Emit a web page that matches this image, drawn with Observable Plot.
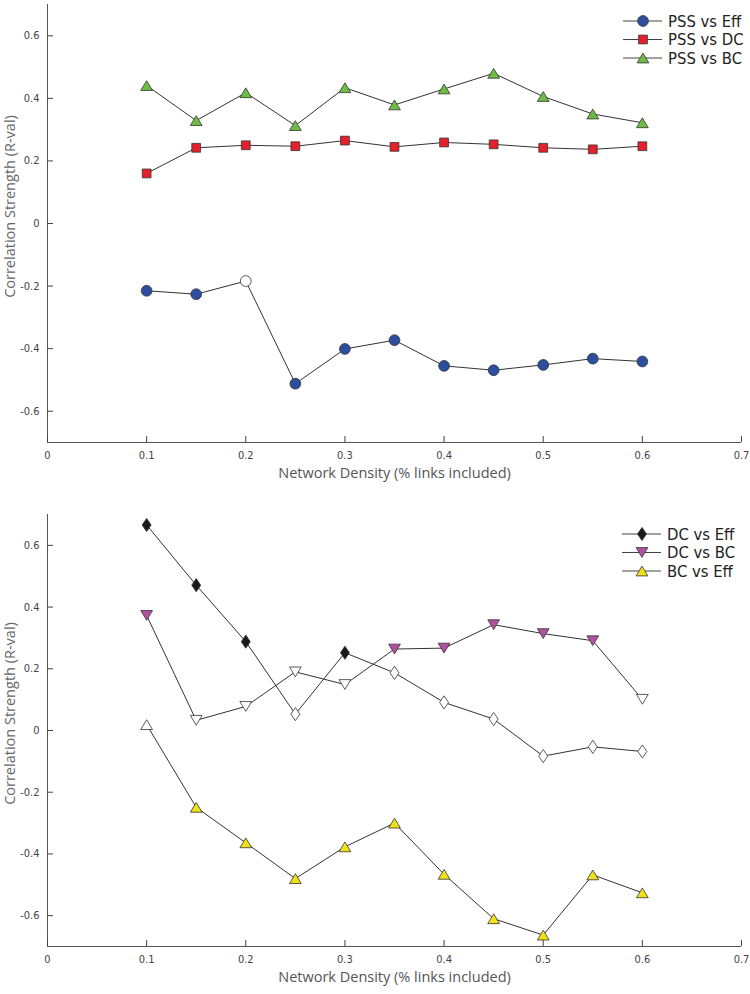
<!DOCTYPE html>
<html><head><meta charset="utf-8">
<script src="https://cdn.jsdelivr.net/npm/d3@7"></script>
<script src="https://cdn.jsdelivr.net/npm/@observablehq/plot@0.6"></script>
<style>
body{margin:0;background:#fff;}
.panel{position:relative;width:750px;}
.panel > svg{display:block;}
.legend{position:absolute;}
</style></head><body>
<div id="top" class="panel"></div>
<div id="bottom" class="panel"></div>
<script>
// ---------- data ----------
const density = [0.1, 0.15, 0.2, 0.25, 0.3, 0.35, 0.4, 0.45, 0.5, 0.55, 0.6];
const xTicks = [0, 0.1, 0.2, 0.3, 0.4, 0.5, 0.6, 0.7];
const yTicks = [-0.6, -0.4, -0.2, 0, 0.2, 0.4, 0.6];
const xDomain = [0, 0.7];
const yDomain = [-0.7, 0.7];
const xLabel = "Network Density (% links included)";
const yLabel = "Correlation Strength (R-val)";

// top panel
const pssEff    = [-0.215, -0.226, -0.184, -0.512, -0.401, -0.373, -0.455, -0.469, -0.452, -0.432, -0.441];
const pssEffSig = [1, 1, 0, 1, 1, 1, 1, 1, 1, 1, 1];
const pssDC     = [0.160, 0.242, 0.250, 0.247, 0.265, 0.245, 0.259, 0.253, 0.242, 0.237, 0.247];
const pssDCSig  = [1, 1, 1, 1, 1, 1, 1, 1, 1, 1, 1];
const pssBC     = [0.441, 0.329, 0.418, 0.313, 0.434, 0.379, 0.430, 0.480, 0.406, 0.350, 0.322];
const pssBCSig  = [1, 1, 1, 1, 1, 1, 1, 1, 1, 1, 1];

// bottom panel
const dcEff    = [0.666, 0.471, 0.288, 0.053, 0.252, 0.187, 0.091, 0.037, -0.083, -0.053, -0.068];
const dcEffSig = [1, 1, 1, 0, 1, 0, 0, 0, 0, 0, 0];
const dcBC     = [0.373, 0.033, 0.078, 0.190, 0.149, 0.264, 0.267, 0.343, 0.314, 0.291, 0.101];
const dcBCSig  = [1, 0, 0, 0, 0, 1, 1, 1, 1, 1, 0];
const bcEff    = [0.019, -0.249, -0.364, -0.480, -0.377, -0.300, -0.466, -0.610, -0.663, -0.468, -0.526];
const bcEffSig = [0, 1, 1, 1, 1, 1, 1, 1, 1, 1, 1];

// ---------- symbols ----------
const rad = size => Math.sqrt(size / Math.PI);
const symCircle  = {draw(c, s){const r = rad(s); c.moveTo(r, 0); c.arc(0, 0, r, 0, 2 * Math.PI);}};
const symSquare  = {draw(c, s){const r = rad(s); c.rect(-r, -r, 2 * r, 2 * r);}};
const symUp      = {draw(c, s){const r = rad(s); c.moveTo(0, -r); c.lineTo(1.2 * r, r); c.lineTo(-1.2 * r, r); c.closePath();}};
const symDown    = {draw(c, s){const r = rad(s); c.moveTo(0, r); c.lineTo(1.2 * r, -r); c.lineTo(-1.2 * r, -r); c.closePath();}};
const symDiamond = {draw(c, s){const r = rad(s); c.moveTo(0, -r); c.lineTo(0.68 * r, 0); c.lineTo(0, r); c.lineTo(-0.68 * r, 0); c.closePath();}};

const topSeries = [
  {name: "PSS vs Eff", values: pssEff, sig: pssEffSig, color: "#2D4E9F", symbol: symCircle, r: 5.4},
  {name: "PSS vs DC",  values: pssDC,  sig: pssDCSig,  color: "#E3202B", symbol: symSquare, r: 4.4},
  {name: "PSS vs BC",  values: pssBC,  sig: pssBCSig,  color: "#6DBD45", symbol: symUp, r: 4.9}
];
const bottomSeries = [
  {name: "DC vs Eff", values: dcEff, sig: dcEffSig, color: "#1A1A1A", symbol: symDiamond, r: 6.6},
  {name: "DC vs BC",  values: dcBC,  sig: dcBCSig,  color: "#B2509F", symbol: symDown, r: 4.9},
  {name: "BC vs Eff", values: bcEff, sig: bcEffSig, color: "#EFE21A", symbol: symUp, r: 4.9}
];

const fmt = d => String(d);
const condensed = "'Liberation Sans Narrow', 'DejaVu Sans Condensed', 'Noto Sans', sans-serif";
const labelFont = "'Open Sans', 'Noto Sans', sans-serif";

function panel(series, {height, marginTop, marginBottom}) {
  const marks = [
    Plot.ruleX([xDomain[0]], {stroke: "#555", strokeWidth: 1}),
    Plot.ruleY([yDomain[0]], {stroke: "#555", strokeWidth: 1}),
    Plot.axisX(xTicks, {tickSize: -6, tickPadding: 15, tickFormat: fmt, label: null,
      fontFamily: condensed, fontSize: 11, color: "#444"}),
    Plot.axisY(yTicks, {tickSize: -6, tickPadding: 14, tickFormat: fmt, label: null,
      fontFamily: condensed, fontSize: 11, color: "#444"}),
    Plot.text([xLabel], {frameAnchor: "bottom", lineAnchor: "middle", textAnchor: "middle", dy: 31,
      fontFamily: labelFont, fontSize: 14.5, fill: "#555"}),
    Plot.text([yLabel], {frameAnchor: "left", lineAnchor: "middle", textAnchor: "middle", dx: -37, dy: -17, rotate: -90,
      fontFamily: labelFont, fontSize: 14.5, fill: "#666"})
  ];
  for (const s of series) {
    const rows = density.map((x, i) => ({x, y: s.values[i], sig: s.sig[i]}));
    marks.push(Plot.line(rows, {x: "x", y: "y", stroke: "#333", strokeWidth: 1}));
  }
  for (const s of series) {
    const rows = density.map((x, i) => ({x, y: s.values[i], sig: s.sig[i]}));
    marks.push(Plot.dot(rows, {x: "x", y: "y", symbol: s.symbol, r: s.r,
      fill: d => d.sig ? s.color : "white", stroke: "#333", strokeWidth: 0.8}));
  }
  return Plot.plot({
    width: 750, height, marginTop, marginBottom, marginLeft: 47, marginRight: 9,
    x: {domain: xDomain}, y: {domain: yDomain},
    style: {background: "white", color: "#444"},
    marks
  });
}

function legend(series, left, top) {
  const w = 132, h = 62, rowH = 18.5;
  const svg = d3.create("svg").attr("class", "legend").attr("width", w).attr("height", h)
    .style("left", left + "px").style("top", top + "px");
  series.forEach((s, i) => {
    const y = 9 + i * rowH;
    const g = svg.append("g").attr("transform", `translate(0,${y})`);
    g.append("line").attr("x1", 5).attr("x2", 44).attr("y1", 0).attr("y2", 0).attr("stroke", "#444").attr("stroke-width", 1);
    const p = d3.path();
    s.symbol.draw(p, Math.PI * s.r * s.r);
    g.append("path").attr("transform", "translate(25,0)").attr("d", p.toString())
      .attr("fill", s.color).attr("stroke", "#333").attr("stroke-width", 0.8);
    g.append("text").attr("x", 50).attr("y", 0).attr("dy", "0.35em").text(s.name)
      .attr("font-family", condensed).attr("font-size", 16.5).attr("fill", "#222");
  });
  return svg.node();
}

const topDiv = document.getElementById("top");
topDiv.appendChild(panel(topSeries, {height: 494, marginTop: 4, marginBottom: 52}));
topDiv.appendChild(legend(topSeries, 618, 12));

const botDiv = document.getElementById("bottom");
botDiv.appendChild(panel(bottomSeries, {height: 500, marginTop: 20, marginBottom: 48}));
botDiv.appendChild(legend(bottomSeries, 617, 31));
</script>
</body></html>
